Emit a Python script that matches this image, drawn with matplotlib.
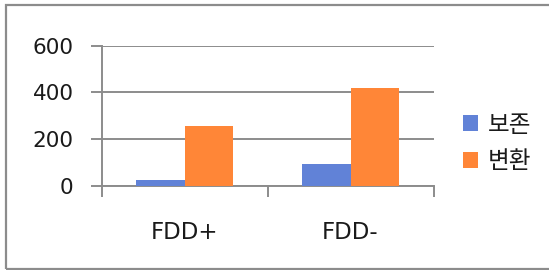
import numpy as np
import matplotlib
matplotlib.use('Agg')
import matplotlib.pyplot as plt
from matplotlib.patches import Rectangle

plt.rcParams['font.family'] = ['DejaVu Sans', 'Noto Sans CJK KR']

# Data
categories = ['FDD+', 'FDD-']
series_names = ['보존', '변환']
preserve = [26, 94]
convert = [257, 417]
yticks = [0, 200, 400, 600]

blue = '#6182d7'
orange = '#ff8637'
gray = '#8c8c8c'

fig = plt.figure(figsize=(5.49, 2.70), dpi=100)
ax = fig.add_axes([101.5 / 549, 1 - 186 / 270, 332 / 549, 140.5 / 270])

x = np.arange(len(categories))
w = 0.29
ax.bar(x - w / 2, preserve, w, color=blue, label=series_names[0], zorder=3)
ax.bar(x + w / 2, convert, w, color=orange, label=series_names[1], zorder=3)

ax.set_xlim(-0.5, len(categories) - 0.5)
ax.set_ylim(0, 600)
ax.set_yticks(yticks)
ax.yaxis.grid(True, color=gray, linewidth=1.4, zorder=0)
ax.set_axisbelow(True)

ax.set_xticks(x)
ax.set_xticklabels(categories)
ax.set_xticks(np.arange(-0.5, len(categories)), minor=True)
ax.tick_params(axis='x', which='major', length=0, pad=25, labelsize=16.5, labelcolor='#1a1a1a')
ax.tick_params(axis='x', which='minor', length=8, width=1.4, color=gray, direction='out')
ax.tick_params(axis='y', length=8, width=1.4, color=gray, direction='out', pad=12,
               labelsize=15.5, labelcolor='#1a1a1a')

for s in ['top', 'right']:
    ax.spines[s].set_visible(False)
ax.spines['left'].set_color(gray)
ax.spines['left'].set_linewidth(1.4)
ax.spines['bottom'].set_color(gray)
ax.spines['bottom'].set_linewidth(1.4)

leg = fig.legend(loc='center left', bbox_to_anchor=(454 / 549, 1 - 143 / 270),
                 frameon=False, fontsize=17, handlelength=0.6, handleheight=0.65,
                 handletextpad=0.45, labelspacing=0.55, borderaxespad=0)
for t in leg.get_texts():
    t.set_color('#1a1a1a')

# outer border
fig.patches.append(Rectangle((6 / 549, 1 / 270), 1.1, 264 / 270, transform=fig.transFigure,
                             fill=False, edgecolor=gray, linewidth=1.6))

fig.savefig('out.png', dpi=100)
